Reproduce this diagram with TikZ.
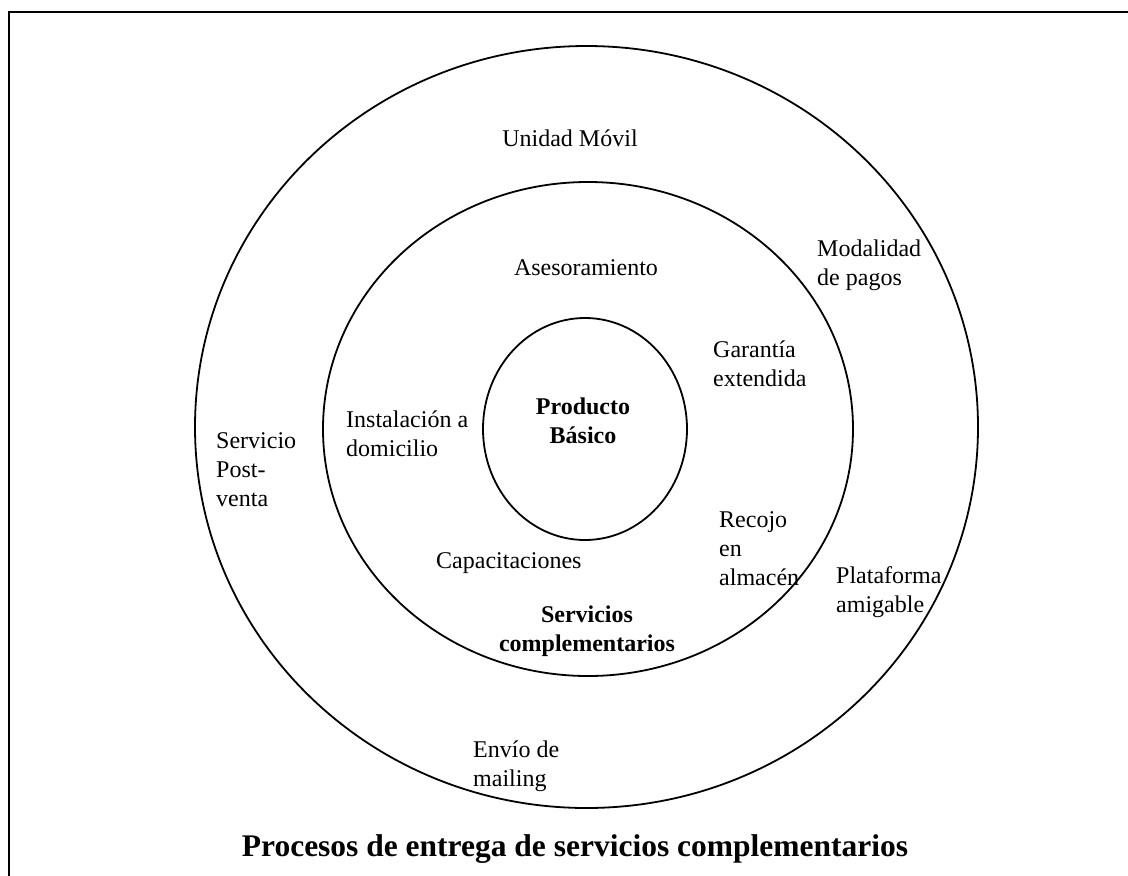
\documentclass[tikz,border=0pt]{standalone}
\usepackage{fontspec}
\setmainfont{Liberation Serif}
\usetikzlibrary{shapes.geometric}
\begin{document}
\begin{tikzpicture}[x=1pt,y=-1pt,
  ring/.style={ellipse, draw=black, line width=1.8pt, inner sep=0pt},
  lbl/.style={inner sep=0pt, align=left, font=\fontsize{24}{29}\selectfont},
  clbl/.style={inner sep=0pt, align=center, font=\fontsize{24}{29}\selectfont},
  blbl/.style={inner sep=0pt, align=center, font=\fontsize{24}{29}\selectfont\bfseries},
  title/.style={inner sep=0pt, font=\fontsize{31.5}{38}\selectfont\bfseries}]
\useasboundingbox (0,0) rectangle (1128,876);
% frame (top and left edges)
\draw[line width=2pt] (1132,12) -- (9,12) -- (9,880);
% the three rings
\node[ring, minimum width=783pt, minimum height=762pt] (outer) at (586.5,427) {};
\node[ring, minimum width=530pt, minimum height=494pt] (middle) at (588,429) {};
\node[ring, minimum width=204pt, minimum height=222pt] (inner) at (585,429) {};
% core
\node[blbl] (core) at (583,421) {Producto\\Básico};
% complementary services
\node[clbl] (ases) at (586,268) {Asesoramiento};
\node[lbl, anchor=west] (garan) at (713,364) {Garantía\\extendida};
\node[lbl, anchor=west] (inst) at (346,434) {Instalación a\\domicilio};
\node[lbl, anchor=west] (recojo) at (719,549) {Recojo\\en\\almacén};
\node[lbl, anchor=west] (capac) at (436,563) {Capacitaciones};
\node[blbl] (serv) at (587,631) {Servicios\\complementarios};
% delivery processes
\node[clbl] (movil) at (570,138) {Unidad Móvil};
\node[lbl, anchor=west] (pagos) at (817,265) {Modalidad\\de pagos};
\node[lbl, anchor=west] (post) at (216,470) {Servicio\\Post-\\venta};
\node[lbl, anchor=west] (plat) at (836,592) {Plataforma\\amigable};
\node[lbl, anchor=west] (mail) at (473,766) {Envío de\\mailing};
\node[title] (cap) at (575,849) {Procesos de entrega de servicios complementarios};
\end{tikzpicture}
\end{document}
